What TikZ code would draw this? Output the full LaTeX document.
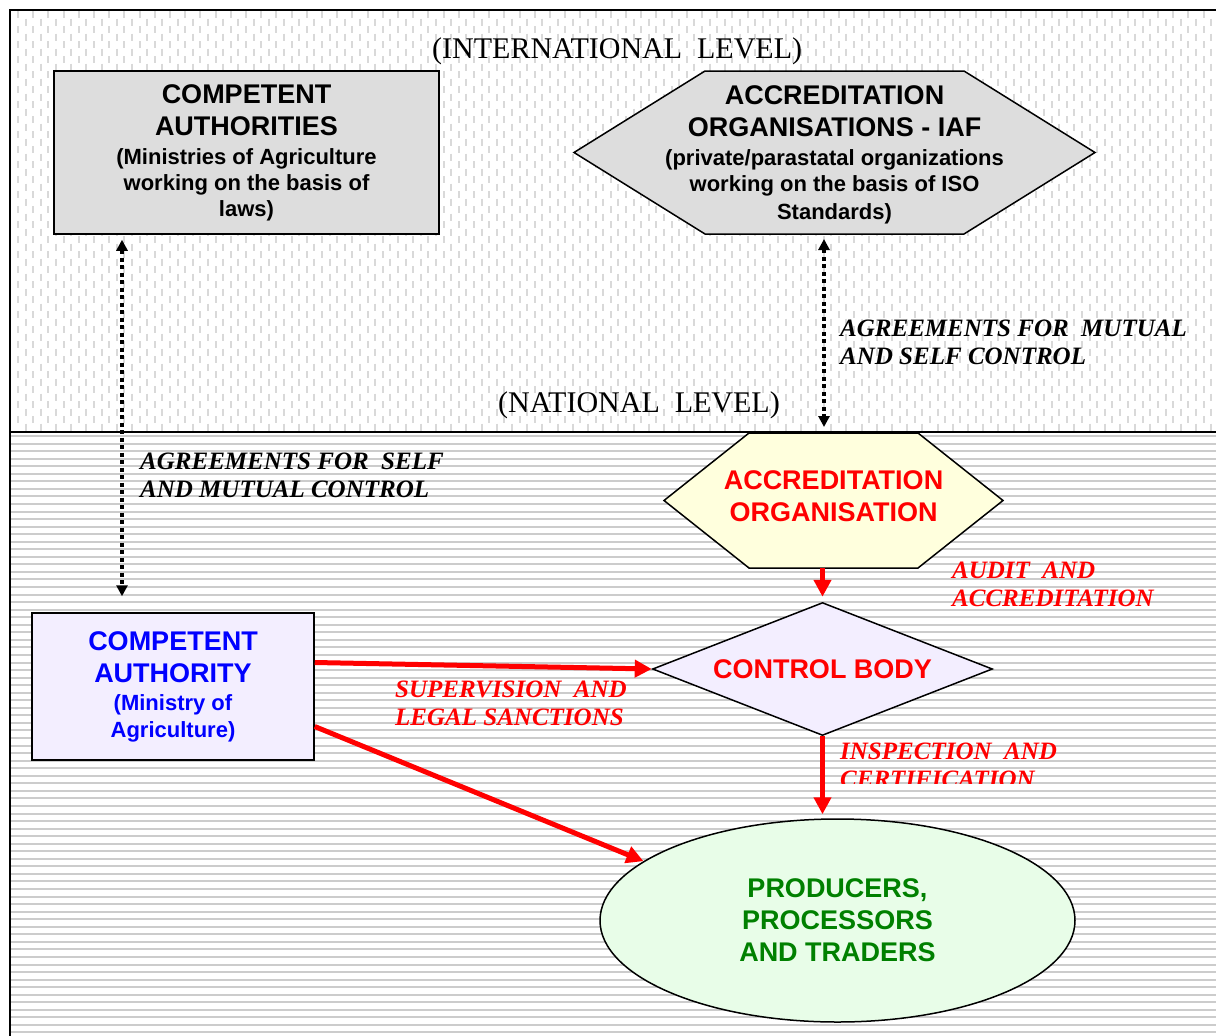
\documentclass[tikz,border=0pt]{standalone}
\usepackage{fontspec}
\setmainfont{Liberation Serif}
\setsansfont{Liberation Sans}
\usepackage{xcolor}
\usepackage{tikz}
\usetikzlibrary{shapes.geometric,arrows.meta}

\definecolor{boxgray}{HTML}{DDDDDD}
\definecolor{lavender}{HTML}{F3EEFF}
\definecolor{paleyellow}{HTML}{FFFFDD}
\definecolor{palegreen}{HTML}{E8FDE8}
\definecolor{darkgreen}{HTML}{008000}

\newcommand{\subsize}{\fontsize{22}{26}\selectfont}

\begin{document}
\begin{tikzpicture}[x=1pt,y=-1pt]
				\tikzstyle{hdrtext}=[font=\sffamily\bfseries\fontsize{27}{32}\selectfont, align=center, inner sep=0pt]
				\tikzstyle{outline}=[draw, line width=1.5pt]
				\tikzstyle{topbox}=[hdrtext, outline, fill=boxgray, minimum width=385pt, minimum height=163pt]
				\tikzstyle{cabox}=[hdrtext, outline, fill=lavender, text=blue, minimum width=282pt, minimum height=147pt]
				\tikzstyle{cbdiamond}=[hdrtext, outline, fill=lavender, text=red, diamond, aspect=2.54, minimum width=340pt, minimum height=133pt]
				\tikzstyle{ppellipse}=[hdrtext, outline, fill=palegreen, text=darkgreen, ellipse, minimum width=475pt, minimum height=203pt]
				\tikzstyle{agree}=[font=\bfseries\itshape\fontsize{25}{28}\selectfont, align=left, inner sep=0pt, anchor=north west]
				\tikzstyle{levellabel}=[font=\fontsize{30}{32}\selectfont, inner sep=0pt, anchor=base west]
				\tikzstyle{dashfill}=[gray!30, line width=2pt, dash pattern=on 7pt off 8pt]
				\tikzstyle{stripe}=[gray!40, line width=2pt]
				\tikzset{dotedge/.style = {{Triangle[length=11pt,width=11pt]}-{Triangle[length=11pt,width=11pt]}, line width=4pt, dash pattern=on 4pt off 3.5pt}}
				\tikzset{rededge/.style = {-{Triangle[length=17pt,width=17pt]}, line width=5pt, red}}
				
				\useasboundingbox (0,0) rectangle (1216,1036);
				\clip (0,0) rectangle (1216,1036);
				\fill[white] (0,0) rectangle (1216,1036);
				
				% background: international part
				\foreach \x in {18,33.2,...,1216}
					\draw[dashfill] (\x,11) -- (\x,431);
				\foreach \x in {25.6,40.8,...,1216}
					\draw[dashfill, dash phase=7.5pt] (\x,11) -- (\x,431);
				
				% background: national part
				\foreach \y in {436,443.55,...,1036}
					\draw[stripe] (11,\y) -- (1216,\y);
				
				% frame
				\draw[line width=2pt] (10,1036) -- (10,10) -- (1216,10);
				\draw[line width=2pt] (10,432) -- (1216,432);
				
				% levels
				\node[levellabel](intl) at (432,58) {(INTERNATIONAL~ LEVEL)};
				\node[levellabel](natl) at (498,412) {(NATIONAL~ LEVEL)};
				
				% international level
				\node[topbox](cas) at (246.5,152.5) {COMPETENT\\AUTHORITIES\\[-3pt]\subsize(Ministries of Agriculture\\[-6pt]\subsize working on the basis of\\[-6pt]\subsize laws)};
				\draw[outline, fill=boxgray] (574,152.5) -- (705,71) -- (964,71) -- (1095,152.5) -- (964,234) -- (705,234) -- cycle;
				\node[hdrtext](iaf) at (834.5,155) {ACCREDITATION\\ORGANISATIONS - IAF\\[-3pt]\subsize(private/parastatal organizations\\[-6pt]\subsize working on the basis of ISO\\[-4pt]\subsize Standards)};
				\coordinate (iafs) at (824,234);
				
				% national level
				\draw[outline, fill=paleyellow] (664,500.5) -- (749,433) -- (918,433) -- (1003,500.5) -- (918,568) -- (749,568) -- cycle;
				\node[hdrtext, text=red](ao) at (833.5,496) {ACCREDITATION\\ORGANISATION};
				\coordinate (aon) at (824,433);
				\coordinate (aos) at (822.5,568);
				
				\node[cabox](ca) at (173,686.5) {COMPETENT\\AUTHORITY\\[-4pt]\subsize(Ministry of\\[-5pt]\subsize Agriculture)};
				\node[cbdiamond](cb) at (822.5,669) {CONTROL BODY};
				\node[ppellipse](pp) at (837.5,920.5) {PRODUCERS,\\PROCESSORS\\AND TRADERS};
				
				% agreements
				\draw[dotedge] ([xshift=-124.5pt,yshift=-5pt]cas.south) -- ([xshift=-51pt,yshift=16pt]ca.north);
				\draw[dotedge] ([yshift=-5pt]iafs) -- ([yshift=6pt]aon);
				\node[agree](amc) at (140,453) {AGREEMENTS FOR~ SELF\\AND MUTUAL CONTROL};
				\node[agree](asc) at (840,319.5) {AGREEMENTS FOR~ MUTUAL\\AND SELF CONTROL};
				
				% controls
				\draw[rededge, shorten >=5pt] (aos) -- (aos |- cb.north);
				\draw[rededge] ([yshift=24pt]ca.east) -- (cb.west);
				\draw[rededge] ([yshift=-40pt]ca.east) -- (pp.163);
				\draw[rededge, shorten >=4pt] (cb.south) -- (cb.south |- pp.north);
				\node[agree, text=red](audit) at (952,561.5) {AUDIT~ AND\\ACCREDITATION};
				\node[agree, text=red](sup) at (395,680.5) {SUPERVISION~ AND\\LEGAL SANCTIONS};
				\begin{scope}
					\clip (830,735) rectangle (1150,783);
					\node[agree, text=red](insp) at (840,742.5) {INSPECTION~ AND\\CERTIFICATION};
				\end{scope}
			\end{tikzpicture}
\end{document}
